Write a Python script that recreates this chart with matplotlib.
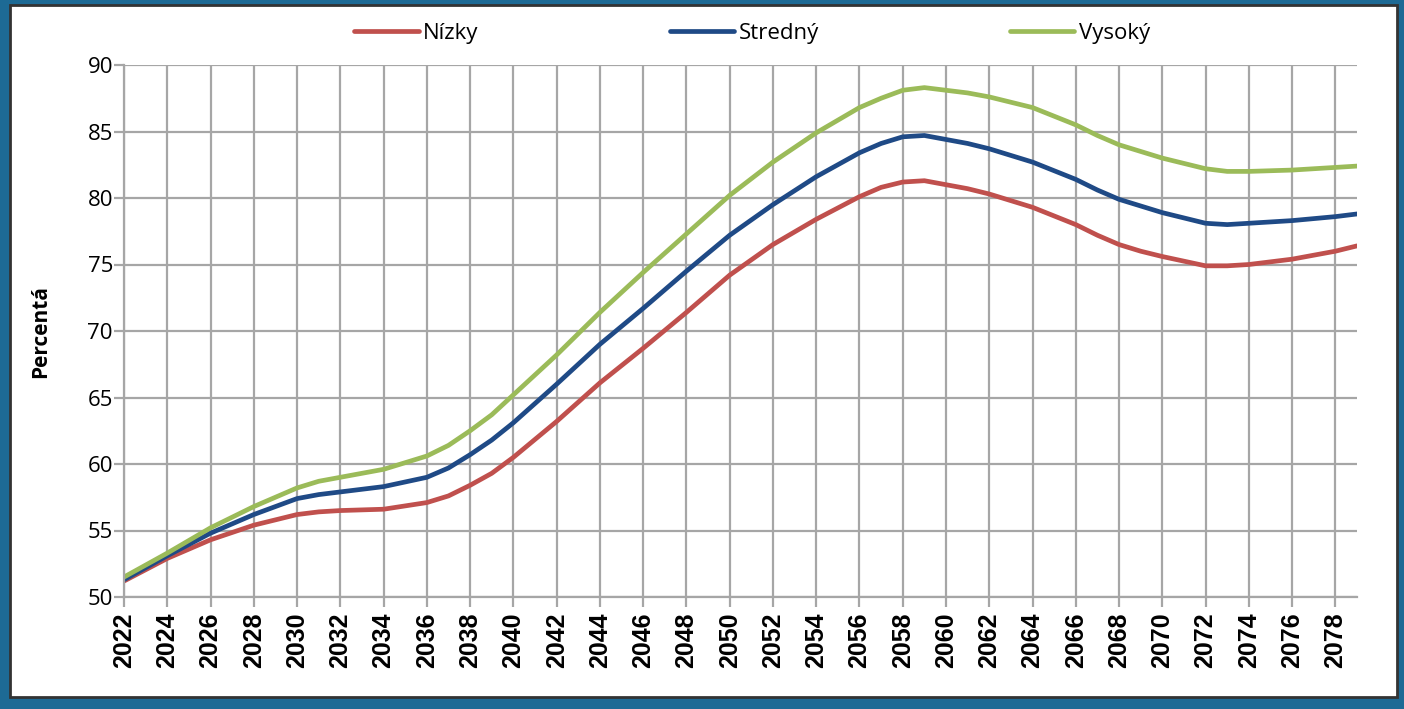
import numpy as np
import matplotlib.pyplot as plt
from matplotlib.patches import Rectangle

years = [2022, 2024, 2026, 2028, 2030, 2031, 2032, 2034, 2036, 2037,
         2038, 2039, 2040, 2042, 2044, 2046, 2048, 2050, 2052, 2054,
         2056, 2057, 2058, 2059, 2060, 2061, 2062, 2064, 2066, 2067,
         2068, 2069, 2070, 2072, 2073, 2074, 2076, 2078, 2079]

nizky = [51.2, 52.9, 54.3, 55.4, 56.2, 56.4, 56.5, 56.6, 57.1, 57.6,
         58.4, 59.3, 60.5, 63.2, 66.1, 68.7, 71.4, 74.2, 76.5, 78.4,
         80.1, 80.8, 81.2, 81.3, 81.0, 80.7, 80.3, 79.3, 78.0, 77.2,
         76.5, 76.0, 75.6, 74.9, 74.9, 75.0, 75.4, 76.0, 76.4]

stredny = [51.3, 53.1, 54.8, 56.2, 57.4, 57.7, 57.9, 58.3, 59.0, 59.7,
           60.7, 61.8, 63.1, 66.0, 69.0, 71.7, 74.5, 77.2, 79.5, 81.6,
           83.4, 84.1, 84.6, 84.7, 84.4, 84.1, 83.7, 82.7, 81.4, 80.6,
           79.9, 79.4, 78.9, 78.1, 78.0, 78.1, 78.3, 78.6, 78.8]

vysoky = [51.5, 53.3, 55.2, 56.8, 58.2, 58.7, 59.0, 59.6, 60.6, 61.4,
          62.5, 63.7, 65.2, 68.2, 71.4, 74.4, 77.3, 80.2, 82.7, 84.9,
          86.8, 87.5, 88.1, 88.3, 88.1, 87.9, 87.6, 86.8, 85.5, 84.7,
          84.0, 83.5, 83.0, 82.2, 82.0, 82.0, 82.1, 82.3, 82.4]

labels = ['Nízky', 'Stredný', 'Vysoký']
colors = ['#c0504d', '#1f4a86', '#9bbb59']

fig = plt.figure(figsize=(14.04, 7.09), dpi=100)
fig.patch.set_facecolor('#1d6a95')
frame = Rectangle((10/1404, 1-697/709), 1387/1404, 692/709,
                  transform=fig.transFigure, facecolor='white',
                  edgecolor='#333333', lw=2, zorder=-10)
fig.add_artist(frame)

ax = fig.add_axes([124/1404, 1-597/709, (1357-124)/1404, (597-65)/709])
ax.set_facecolor('none')

for vals, lab, c in zip([nizky, stredny, vysoky], labels, colors):
    ax.plot(years, vals, color=c, lw=3.4, label=lab,
            solid_capstyle='round', solid_joinstyle='round')

ax.set_xlim(2022, 2079)
ax.set_ylim(50, 90)
ax.set_xticks(np.arange(2022, 2079, 2))
ax.set_yticks(np.arange(50, 91, 5))
ax.grid(True, color='#a6a6a6', lw=1.6)
ax.set_axisbelow(True)
for s in ['top', 'right']:
    ax.spines[s].set_visible(False)
for s in ['left', 'bottom']:
    ax.spines[s].set_color('#a6a6a6')
    ax.spines[s].set_linewidth(1.6)
ax.tick_params('both', color='#a6a6a6', width=1.6, length=7)
ax.tick_params('x', labelrotation=90, labelsize=18, pad=4)
ax.tick_params('y', labelsize=16, pad=1)
for t in ax.get_xticklabels():
    t.set_fontfamily('Liberation Sans')
    t.set_fontweight('bold')
for t in ax.get_yticklabels():
    t.set_fontfamily('Open Sans')

ax.set_ylabel('Percentá', fontsize=15, fontweight='bold', fontfamily='Open Sans', labelpad=26)

fig.legend(loc='center', bbox_to_anchor=(752/1404, 1-33/709), ncol=3, frameon=False,
           handlelength=2.9, handletextpad=0.2, columnspacing=8.6,
           prop={'family': 'Open Sans', 'size': 16})

plt.savefig('out.png', dpi=100)
